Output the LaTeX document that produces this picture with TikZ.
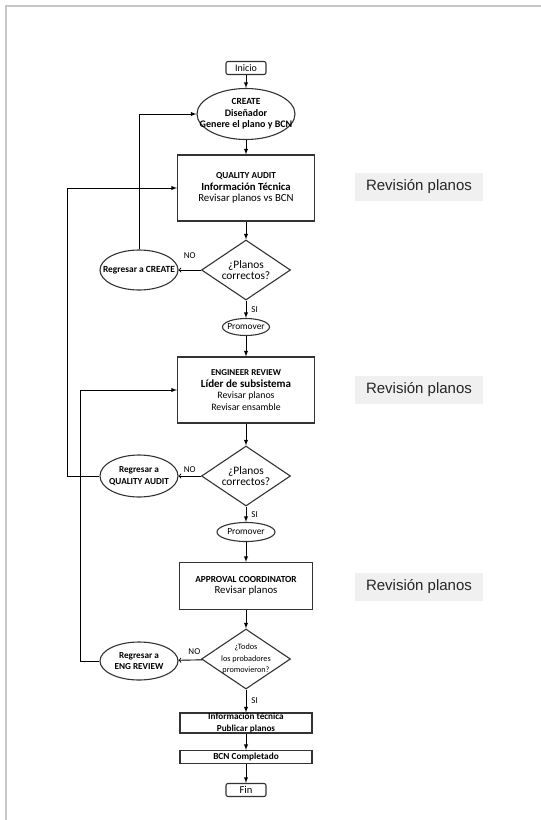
\documentclass[tikz,border=0pt]{standalone}
\usepackage{fontspec}
\setmainfont{Carlito}
\newfontfamily\arialfont{Liberation Sans}
\usetikzlibrary{arrows,positioning,shapes.geometric}
\newcommand{\sz}[2]{\fontsize{#1}{#2}\selectfont}

\begin{document}
\begin{tikzpicture}[x=1pt,y=-1pt,
   every node/.style={align=center, inner sep=0pt, font=\sz{10.8}{11.5}},
   box/.style={draw=black!80, line width=1.1pt, rectangle},
   term/.style={box, rounded corners=2pt, minimum width=40pt, minimum height=13pt, inner ysep=-3pt},
   oval/.style={draw=black!80, line width=1.1pt, ellipse, inner sep=-30pt},
   choice/.style={draw=black!80, line width=1.1pt, diamond, inner sep=-30pt,
     minimum width=89pt, minimum height=60pt},
   tag/.style={fill=black!6, minimum width=128pt, minimum height=28pt,
     font=\arialfont\sz{15}{18}, text=black!85},
   lbl/.style={font=\sz{9}{9}},
   arr/.style={->, >=latex, line width=0.9pt},
   back/.style={-to, line width=0.9pt}]
  \useasboundingbox (0,0) rectangle (541,820);
  % marco gris
  \draw[black!22, line width=2pt] (5,6) -- (541,6) (6,5) -- (6,820);

  \node[term] (inicio) at (246, 68) {\sz{10}{10}Inicio};
  \node[oval, minimum width=98pt, minimum height=51pt] (create) at (246, 114)
    {\sz{9.4}{11.5}\bfseries CREATE\\ \sz{10}{11.5}\bfseries Diseñador\\ \sz{10}{11.5}\bfseries Genere el plano y BCN};
  \node[box, minimum width=137pt, minimum height=66pt] (qa) at (246, 188)
    {\sz{9.2}{11.5}\bfseries QUALITY AUDIT\\ \sz{10.8}{11.5}\bfseries Información Técnica\\ Revisar planos vs BCN};
  \node[choice] (d1) at (246, 270) {\sz{11.4}{10.5}¿Planos\\ \sz{11.4}{10.5}correctos?};
  \node[oval, minimum width=78pt, minimum height=40pt] (ret1) at (139, 270)
    {\sz{9.4}{10}\bfseries Regresar a CREATE};
  \node[oval, minimum width=47pt, minimum height=17pt] (prom1) at (246, 327) {\sz{9.4}{10}Promover};

  \node[box, minimum width=137pt, minimum height=66pt] (eng) at (246, 390)
    {\sz{9}{11.5}\bfseries ENGINEER REVIEW\\ \sz{11}{11.5}\bfseries Líder de subsistema\\ \sz{9.8}{11.5}Revisar planos\\ \sz{9.8}{11.5}Revisar ensamble};
  \node[choice] (d2) at (246, 476) {\sz{11.4}{10.5}¿Planos\\ \sz{11.4}{10.5}correctos?};
  \node[oval, minimum width=78pt, minimum height=42pt] (ret2) at (139, 476)
    {\sz{9.2}{11}\bfseries Regresar a\\ \sz{9.2}{11}\bfseries QUALITY AUDIT};
  \node[oval, minimum width=58pt, minimum height=19pt] (prom2) at (246, 532) {\sz{9.4}{10}Promover};

  \node[box, minimum width=133pt, minimum height=47pt] (appr) at (246, 586)
    {\sz{9.3}{11.5}\bfseries APPROVAL COORDINATOR\\ Revisar planos};
  \node[choice] (d3) at (246, 659) {\sz{8.2}{9.5}¿Todos\\ \sz{8.2}{9.5}los probadores\\ \sz{8.2}{9.5}promovieron?};
  \node[oval, minimum width=78pt, minimum height=38pt] (ret3) at (139, 661)
    {\sz{9.2}{11}\bfseries Regresar a\\ \sz{9.2}{11}\bfseries ENG REVIEW};
  \node[box, minimum width=132pt, minimum height=20pt, inner ysep=-3pt] (info) at (246, 723)
    {\sz{9.2}{10}\bfseries Información técnica\\ \sz{9.2}{10}\bfseries Publicar planos};
  \node[box, minimum width=132pt, minimum height=13pt, inner ysep=-3pt] (bcn) at (246, 757)
    {\sz{9.3}{10}\bfseries BCN Completado};
  \node[term] (fin) at (246, 790) {\sz{10.5}{10}Fin};

  \node[tag] (rev1) at (419, 187) {Revisión planos};
  \node[tag] (rev2) at (419, 389.5) {Revisión planos};
  \node[tag] (rev3) at (419, 587) {Revisión planos};

  \draw[arr] (inicio) -- (create);
  \draw[arr] (create) -- (qa);
  \draw[arr] (qa) -- (d1);
  \draw[back] (d1) -- node[lbl, above=11pt] {NO} (ret1);
  \draw[arr] (d1) -- node[lbl, right=5pt] {SI} (prom1);
  \draw[arr] (ret1) |- (create);
  \draw[arr] (prom1) -- (eng);
  \draw[arr] (eng) -- (d2);
  \draw[back] (d2) -- node[lbl, above=3pt] {NO} (ret2);
  \draw[arr] (ret2.west) -- ++(-32,0) |- (qa);
  \draw[arr] (d2) -- node[lbl, right=5pt] {SI} (prom2);
  \draw[arr] (prom2) -- (appr);
  \draw[arr] (appr) -- (d3);
  \draw[back] (d3) -- node[lbl, above=5pt, xshift=4pt] {NO} (ret3);
  \draw[arr] (ret3.west) -- ++(-19,0) |- (eng);
  \draw[arr] (d3) -- node[lbl, right=5pt] {SI} (info);
  \draw[arr] (info) -- (bcn);
  \draw[arr] (bcn) -- (fin);
\end{tikzpicture}
\end{document}
